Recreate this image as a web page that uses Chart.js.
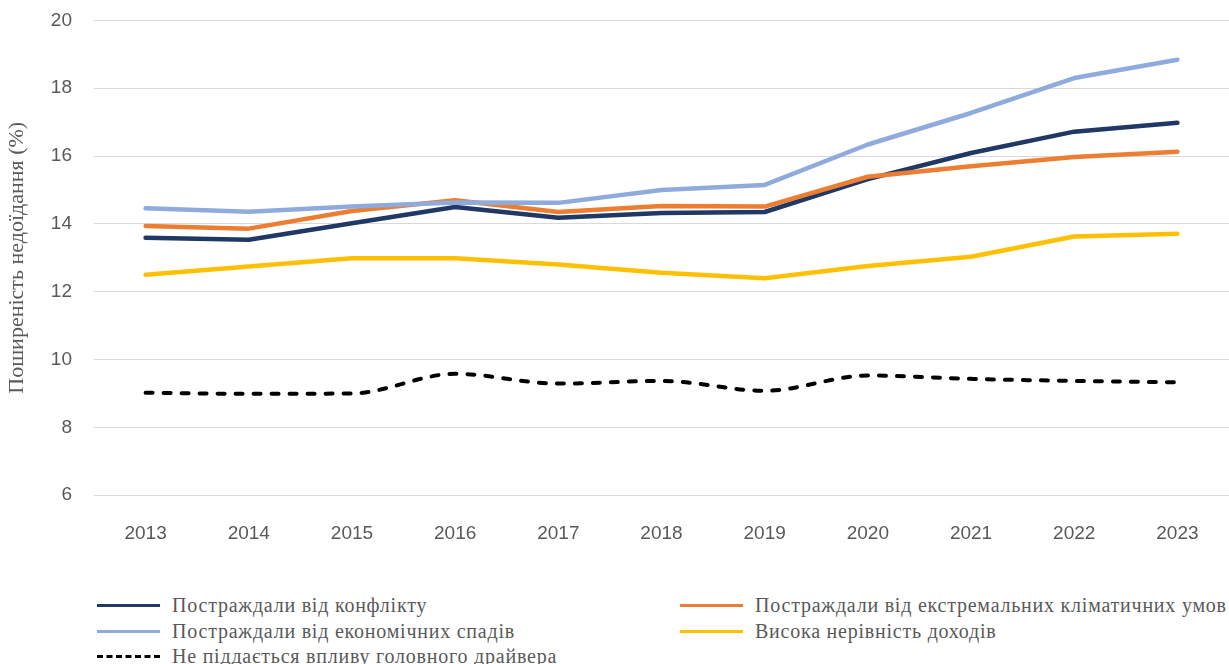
<!DOCTYPE html>
<html lang="uk">
<head>
    <meta charset="UTF-8">
    <title>Поширеність недоїдання</title>
    <script src="https://cdn.jsdelivr.net/npm/chart.js"></script>
    <style>
        body { margin: 0; padding: 0; background: #fff; width: 1229px; height: 664px; overflow: hidden; position: relative; }
        #chart-container { position: absolute; left: 0; top: -13px; width: 1229px; height: 593px; }
        #legend { position: absolute; left: 0; top: 592px; width: 1229px; font-family: "Liberation Serif", serif; font-size: 20px; letter-spacing: 0.77px; color: #595959; }
        .item { position: absolute; height: 26px; line-height: 26px; white-space: nowrap; }
        .item .swatch { position: absolute; left: 0; top: 12px; width: 63px; height: 0; }
        .item .label { position: absolute; left: 75px; top: 0; }
    </style>
</head>
<body>

<div id="chart-container">
    <canvas id="chart"></canvas>
</div>
<div id="legend"></div>

<script>
    // categories (years)
    const years = ['2013', '2014', '2015', '2016', '2017', '2018', '2019', '2020', '2021', '2022', '2023'];

    // series values (%)
    const conflict   = [13.59, 13.53, 14.02, 14.50, 14.18, 14.32, 14.35, 15.32, 16.09, 16.72, 16.98];
    const climate    = [13.94, 13.86, 14.38, 14.70, 14.35, 14.53, 14.51, 15.39, 15.70, 15.97, 16.13];
    const economic   = [14.46, 14.36, 14.51, 14.63, 14.62, 15.00, 15.15, 16.34, 17.27, 18.30, 18.84];
    const inequality = [12.50, 12.74, 12.99, 12.99, 12.80, 12.56, 12.40, 12.76, 13.03, 13.63, 13.71];
    const noDriver   = [9.02, 8.99, 9.00, 9.58, 9.29, 9.37, 9.08, 9.53, 9.43, 9.37, 9.33];

    const seriesNames = [
        'Постраждали від конфлікту',
        'Постраждали від екстремальних кліматичних умов',
        'Постраждали від економічних спадів',
        'Висока нерівність доходів',
        'Не піддається впливу головного драйвера'
    ];

    const yTicks = [6, 8, 10, 12, 14, 16, 18, 20];
    const yTitle = 'Поширеність недоїдання (%)';

    const textColor = '#595959';

    const datasets = [
        { label: seriesNames[0], data: conflict,   borderColor: '#203864', order: 5 },
        { label: seriesNames[1], data: climate,    borderColor: '#ED7D31', order: 4 },
        { label: seriesNames[2], data: economic,   borderColor: '#8FAADC', order: 3 },
        { label: seriesNames[3], data: inequality, borderColor: '#FFC000', order: 2 },
        { label: seriesNames[4], data: noDriver,   borderColor: '#000000', order: 1,
          borderDash: [7, 11], cubicInterpolationMode: 'monotone', borderWidth: 4 }
    ].map(ds => Object.assign({
        fill: false,
        borderWidth: 4.5,
        pointRadius: 0,
        pointHoverRadius: 0,
        tension: 0,
        borderJoinStyle: 'round',
        borderCapStyle: 'round'
    }, ds));

    const ctx = document.getElementById('chart').getContext('2d');
    const chart = new Chart(ctx, {
        type: 'line',
        data: { labels: years, datasets: datasets },
        options: {
            responsive: true,
            maintainAspectRatio: false,
            animation: false,
            layout: { padding: { top: 9, right: 0, bottom: 16, left: 0 } },
            plugins: {
                legend: { display: false },
                tooltip: { enabled: false }
            },
            scales: {
                x: {
                    offset: true,
                    grid: { display: false },
                    border: { display: false },
                    ticks: {
                        color: textColor,
                        padding: 19,
                        font: { family: '"Liberation Sans", sans-serif', size: 19 }
                    }
                },
                y: {
                    min: 6,
                    max: 20,
                    afterBuildTicks: axis => { axis.ticks = yTicks.map(v => ({ value: v })); },
                    afterFit: axis => { axis.width = 94; },
                    grid: { color: '#d9d9d9', lineWidth: 1, drawTicks: false },
                    border: { display: false },
                    ticks: {
                        color: textColor,
                        padding: 22,
                        font: { family: '"Liberation Sans", sans-serif', size: 19 }
                    },
                    title: {
                        display: true,
                        text: yTitle,
                        color: textColor,
                        padding: { top: 4, bottom: 0 },
                        font: { family: '"Liberation Serif", serif', size: 22 }
                    }
                }
            }
        }
    });

    // legend in two columns, built from the datasets
    const legendPos = [
        [97, 0], [680, 0],
        [97, 25.5], [680, 25.5],
        [97, 51]
    ];
    const legendEl = document.getElementById('legend');
    datasets.forEach((ds, i) => {
        const item = document.createElement('div');
        item.className = 'item';
        item.style.left = legendPos[i][0] + 'px';
        item.style.top = legendPos[i][1] + 'px';
        const sw = document.createElement('div');
        sw.className = 'swatch';
        sw.style.borderTop = ds.borderDash ? '3px dashed ' + ds.borderColor : '3px solid ' + ds.borderColor;
        const lb = document.createElement('span');
        lb.className = 'label';
        lb.textContent = ds.label;
        item.appendChild(sw);
        item.appendChild(lb);
        legendEl.appendChild(item);
    });
</script>

</body>
</html>
